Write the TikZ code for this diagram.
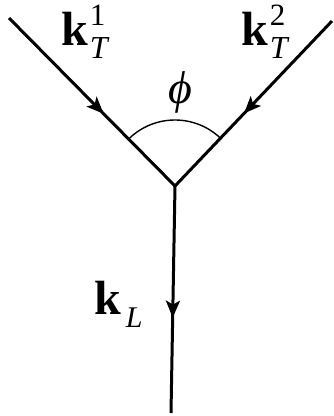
\documentclass[tikz,border=0pt]{standalone}
\usepackage{fontspec}
\setmainfont{Liberation Serif}
\usetikzlibrary{arrows.meta,decorations.markings}
\newcommand{\kmain}{{\fontsize{48}{50}\selectfont\bfseries k}}
\newcommand{\klab}[3]{\kmain\kern#3\rlap{\raisebox{-13pt}{\fontsize{32}{34}\selectfont\itshape #2}}\raisebox{20pt}{\fontsize{31}{33}\selectfont #1}}
\tikzset{
  vec/.style={line width=3pt, postaction={decorate}, decoration={markings, mark=at position #1 with {\arrow{Stealth[length=17pt,width=14pt,inset=4pt]}}}},
  lab/.style={inner sep=0pt, anchor=base west},
  anglearc/.style={line width=1.4pt}
}
\begin{document}
\begin{tikzpicture}[x=1pt,y=1pt]
\useasboundingbox (0,0) rectangle (333,-416);
\coordinate (A1) at (9,-18);
\coordinate (A2) at (332,-21);
\coordinate (V) at (175,-186);
\coordinate (B) at (171,-413);
\draw[vec=0.57] (A1) -- (V);
\draw[vec=0.56] (A2) -- (V);
\draw[vec=0.58] (V) -- (B);
\draw[anglearc] (V) ++(134.6:66pt) arc[start angle=134.6, end angle=46.6, radius=66pt];
\node[lab] (k1) at (61,-45) {\klab{1}{T}{2pt}};
\node[lab] (k2) at (241,-45) {\klab{2}{T}{2pt}};
\node[lab] (kL) at (94,-314) {\kmain\kern5pt\raisebox{-13pt}{\fontsize{30}{32}\selectfont\itshape L}};
\node[inner sep=0pt] (phi) at (180,-92) {\fontsize{46}{48}\selectfont\itshape ϕ};
\end{tikzpicture}
\end{document}
